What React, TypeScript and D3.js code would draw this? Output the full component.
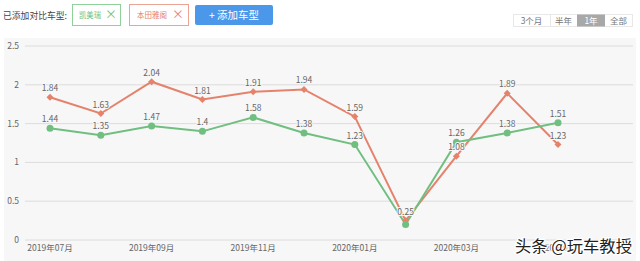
import React from "react";
import * as d3 from "d3";

const months = ["2019年07月","2019年08月","2019年09月","2019年10月","2019年11月","2019年12月","2020年01月","2020年02月","2020年03月","2020年04月","2020年05月"];
const camry = [1.44, 1.35, 1.47, 1.4, 1.58, 1.38, 1.23, 0.2, 1.26, 1.38, 1.51];
const accord = [1.84, 1.63, 2.04, 1.81, 1.91, 1.94, 1.59, 0.25, 1.08, 1.89, 1.23];
const camryLabelShown = [true, true, true, true, true, true, true, false, true, true, true];
const accordLabelShown = [true, true, true, true, true, true, true, true, true, true, true];
const yTicks = [0, 0.5, 1, 1.5, 2, 2.5];
const xLabelIdx = [0, 2, 4, 6, 8, 10];
const periods = ["3个月", "半年", "1年", "全部"];

const W = 640, H = 261;
const GREEN = "#70bf80";
const RED = "#e5826c";
const FONT = "'Noto Sans CJK SC', 'Noto Sans', sans-serif";

export default function App() {
  const x = d3.scalePoint<string>().domain(months).range([50, 558]);
  const y = d3.scaleLinear().domain([0, 2.5]).range([240, 46]);
  const line = d3.line<number>().x((_, i) => x(months[i])!).y(d => y(d));
  const fmt = (v: number) => String(v);
  const segX = [513, 550, 577, 605, 632];

  return (
    <div style={{ position: "absolute", left: 0, top: 0, width: W, height: H }}>
      <svg width={W} height={H} style={{ display: "block", fontFamily: FONT }}>
        <rect x={0} y={0} width={W} height={H} fill="#ffffff" />
        <rect x={4} y={38} width={632} height={223} fill="#f7f7f7" />
        {/* header */}
        <text x={3} y={18.5} fontSize={9} fill="#444" textLength={64} lengthAdjust="spacingAndGlyphs">已添加对比车型:</text>
        <rect x={72.5} y={4.5} width={48} height={21} fill="#fff" stroke="#8fd09b" />
        <text x={79} y={18} fontSize={8} fill={GREEN} textLength={22} lengthAdjust="spacingAndGlyphs">凯美瑞</text>
        <text x={111} y={19} fontSize={12} fill={GREEN} textAnchor="middle">×</text>
        <rect x={129.5} y={4.5} width={59} height={21} fill="#fff" stroke="#eba393" />
        <text x={137} y={18} fontSize={8} fill={RED} textLength={30} lengthAdjust="spacingAndGlyphs">本田雅阁</text>
        <text x={178} y={19} fontSize={12} fill={RED} textAnchor="middle">×</text>
        <rect x={195} y={5} width={78} height={20} rx={2} fill="#4b97ea" />
        <text x={234} y={19} fontSize={10.5} fill="#fff" textAnchor="middle">+ 添加车型</text>
        {/* period selector */}
        <rect x={513.5} y={14.5} width={119} height={12} fill="#fff" stroke="#e8e8e8" />
        {periods.map((p, i) => (
          <g key={p}>
            {i === 2 && <rect x={segX[i]} y={14.5} width={segX[i + 1] - segX[i]} height={12} fill="#a8a8a8" />}
            {i === 1 && <line x1={segX[i] + 0.5} x2={segX[i] + 0.5} y1={15} y2={26} stroke="#e8e8e8" />}
            <text x={(segX[i] + segX[i + 1]) / 2} y={24} fontSize={8.5} textAnchor="middle" fill={i === 2 ? "#fff" : "#777"}>{p}</text>
          </g>
        ))}
        {/* grid */}
        {yTicks.map(t => (
          <g key={t}>
            <line x1={25} x2={633} y1={y(t)} y2={y(t)} stroke="#dcdcdc" strokeWidth={1} />
            <text x={19} y={y(t) + 3} fontSize={8.5} fill="#666" textAnchor="end">{t}</text>
          </g>
        ))}
        {/* x labels */}
        {xLabelIdx.map(i => (
          <text key={i} x={x(months[i])!} y={251} fontSize={8.5} fill="#666" textAnchor="middle">{months[i]}</text>
        ))}
        {/* lines */}
        <path d={line(accord)!} fill="none" stroke={RED} strokeWidth={2} />
        <path d={line(camry)!} fill="none" stroke={GREEN} strokeWidth={2} />
        {accord.map((v, i) => {
          const cx = x(months[i])!, cy = y(v);
          return <path key={"a" + i} d={`M${cx},${cy - 3.5}L${cx + 3.5},${cy}L${cx},${cy + 3.5}L${cx - 3.5},${cy}Z`} fill={RED} />;
        })}
        {camry.map((v, i) => (
          <circle key={"c" + i} cx={x(months[i])!} cy={y(v)} r={3.5} fill={GREEN} />
        ))}
        {/* data labels */}
        {accord.map((v, i) => accordLabelShown[i] && (
          <text key={"la" + i} x={x(months[i])!} y={y(v) - 6} fontSize={8.5} fill="#666" textAnchor="middle" stroke="#f7f7f7" strokeWidth={2} paintOrder="stroke">{fmt(v)}</text>
        ))}
        {camry.map((v, i) => camryLabelShown[i] && (
          <text key={"lc" + i} x={x(months[i])!} y={y(v) - 6} fontSize={8.5} fill="#666" textAnchor="middle" stroke="#f7f7f7" strokeWidth={2} paintOrder="stroke">{fmt(v)}</text>
        ))}
        {/* watermark */}
        <text x={515} y={251.5} fontSize={16} fill="#222" stroke="#fff" strokeWidth={2.5} paintOrder="stroke" textLength={117} lengthAdjust="spacingAndGlyphs">头条 @玩车教授</text>
      </svg>
    </div>
  );
}
